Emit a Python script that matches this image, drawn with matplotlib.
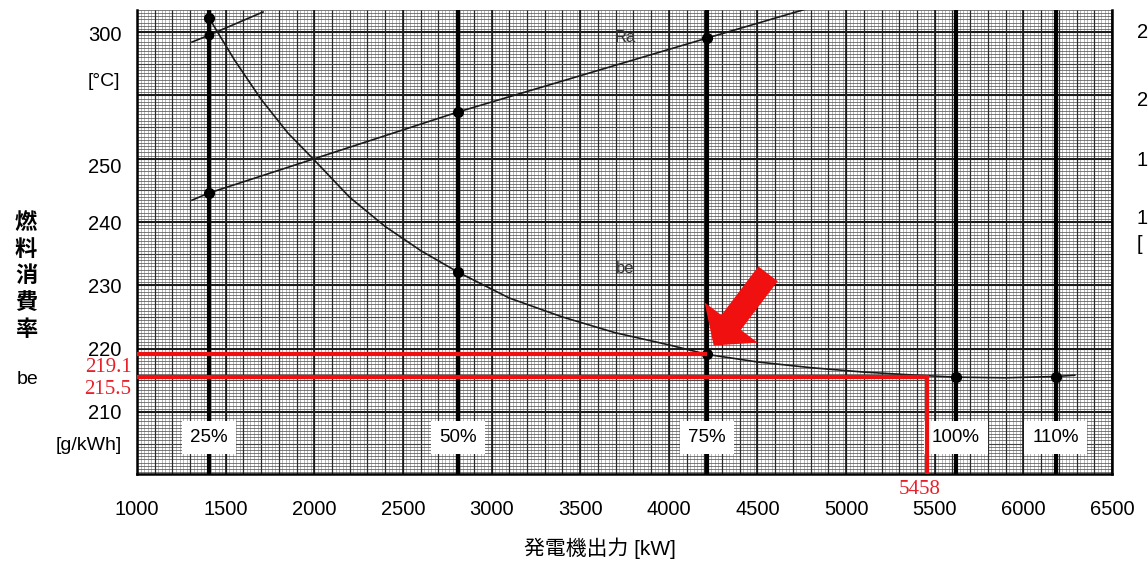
import numpy as np
import matplotlib
matplotlib.use('Agg')
import matplotlib.pyplot as plt

plt.rcParams['font.family'] = ['Liberation Sans', 'Noto Sans CJK JP', 'DejaVu Sans']

# ---- data ----
load_pct = ['25%', '50%', '75%', '100%', '110%']
load_kw = [1405, 2810, 4215, 5620, 6182]

# fuel consumption curve be [g/kWh]
be_kw = [1405, 1550, 1700, 1850, 2000, 2200, 2400, 2600, 2810, 3100, 3400,
         3700, 4000, 4215, 4500, 4800, 5100, 5400, 5620, 5900, 6182, 6290]
be_val = [272.3, 265.6, 259.4, 254.1, 249.8, 243.9, 239.3, 235.5, 232.1, 228.0,
          225.0, 222.5, 220.6, 219.1, 217.9, 217.0, 216.3, 215.8, 215.5, 215.4,
          215.6, 215.8]
be_dots = [272.3, 232.1, 219.1, 215.5, 215.6]

# Ra line and the short upper line, in deg C
ra_kw = [1310, 1405, 2810, 4215, 4768]
ra_degc = [236.7, 239.4, 270.1, 298.1, 309.0]
ra_dots = [239.4, 270.1, 298.1]
tb_kw = [1310, 1405, 1711]
tb_degc = [296.6, 299.2, 308.0]

# red read-off lines
be_75 = 219.1
be_min = 215.5
kw_min = 5458

be_ticks = [210, 220, 230, 240]
degc_ticks = [250, 300]
x_ticks = list(range(1000, 6501, 500))


def be_to_t(b):
    return 250 + (np.asarray(b) - 249.0) / 0.417


def t_to_be(t):
    return 249.0 + (np.asarray(t) - 250) * 0.417


W, H = 1148, 562
fig = plt.figure(figsize=(W / 100, H / 100), dpi=100)
ax = fig.add_axes([137 / W, 1 - 474 / H, (1112 - 137) / W, (474 - 10) / H])
ax.set_xlim(1000, 6500)
ax.set_ylim(200.2, 273.5)

# graph paper
ax.vlines(np.arange(1000, 6501, 20), 200.2, 273.5, color='#808080', lw=0.4, zorder=0)
ax.hlines(np.arange(200, 273.6, 0.5), 1000, 6500, color='#5a5a5a', lw=0.55, zorder=0)
ax.vlines(np.arange(1000, 6501, 100), 200.2, 273.5, color='#2a2a2a', lw=0.9, zorder=1)
ax.hlines(np.arange(200, 273.6, 5), 1000, 6500, color='#444444', lw=0.8, zorder=1)
ax.vlines(np.arange(1000, 6501, 500), 200.2, 273.5, color='#1a1a1a', lw=1.2, zorder=1)
ax.hlines(np.arange(200, 273.6, 10), 1000, 6500, color='#1a1a1a', lw=1.4, zorder=1)

# load lines
ax.vlines(load_kw, 200.2, 273.5, color='black', lw=3.0, zorder=2)
for kw, lab in zip(load_kw, load_pct):
    ax.text(kw, 206.0, lab, ha='center', va='center', fontsize=13.5, zorder=6,
            bbox=dict(facecolor='white', edgecolor='none', pad=6))

# curves
ax.plot(be_kw, be_val, color='#1a1a1a', lw=1.2, zorder=3)
ax.plot(load_kw, be_dots, 'o', color='black', ms=7, zorder=4)
ax.plot(ra_kw, t_to_be(ra_degc), color='#1a1a1a', lw=1.2, zorder=3)
ax.plot(load_kw[:3], t_to_be(ra_dots), 'o', color='black', ms=7, zorder=4)
ax.plot(tb_kw, t_to_be(tb_degc), color='#1a1a1a', lw=1.2, zorder=3)
ax.plot(tb_kw[1], t_to_be(tb_degc[1]), 'o', color='black', ms=6, zorder=4)
ax.text(3753, 269.2, 'Ra', fontsize=12, color='#333333', ha='center', va='center', zorder=5)
ax.text(3753, 232.7, 'be', fontsize=12, color='#333333', ha='center', va='center', zorder=5)

# red read-off
ax.plot([1000, load_kw[2]], [be_75, be_75], color='#f01010', lw=3, zorder=7,
        solid_capstyle='butt')
ax.plot([1000, kw_min, kw_min], [be_min, be_min, 200.2], color='#f01010', lw=3,
        zorder=7, solid_capstyle='butt', solid_joinstyle='miter')
ax.annotate('', xy=(load_kw[2], be_75), xytext=(44, 58), textcoords='offset points',
            arrowprops=dict(arrowstyle='simple,head_length=1.3,head_width=3.0,tail_width=1.1',
                            fc='#f01010', ec='none', mutation_scale=16,
                            shrinkA=0, shrinkB=8), zorder=8)

# axes styling
for s in ['left', 'right', 'bottom']:
    ax.spines[s].set_linewidth(1.8)
ax.spines['top'].set_visible(False)
ax.set_xticks(x_ticks)
ax.set_xticklabels([str(v) for v in x_ticks], fontsize=14.5)
ax.set_yticks(be_ticks)
ax.set_yticklabels([str(v) for v in be_ticks], fontsize=14.5)
ax.tick_params(axis='x', length=0, pad=19)
ax.tick_params(axis='y', length=0, pad=11)

sec = ax.secondary_yaxis('left', functions=(be_to_t, t_to_be))
sec.set_yticks(degc_ticks)
sec.set_yticklabels([str(v) for v in degc_ticks], fontsize=14.5)
sec.tick_params(length=0, pad=11)
sec.spines['left'].set_visible(False)

# labels
def ftxt(x, y, s, **kw):
    fig.text(x / W, 1 - y / H, s, **kw)

ftxt(104, 82, '[°C]', fontsize=14, ha='center', va='center')
ftxt(89, 446, '[g/kWh]', fontsize=14, ha='center', va='center')
ftxt(28, 380, 'be', fontsize=14, ha='center', va='center')
ftxt(26, 276, '燃\n料\n消\n費\n率', fontsize=16, ha='center', va='center',
     linespacing=1.2, family=['Noto Sans CJK JP'], weight='bold')
ftxt(600, 548, '発電機出力 [kW]', fontsize=15, ha='center', va='center')

ftxt(108, 368, '219.1', fontsize=15, color='#e8202a', ha='center', va='center', family='Liberation Serif')
ftxt(108, 389, '215.5', fontsize=15, color='#e8202a', ha='center', va='center', family='Liberation Serif')
ftxt(920, 490, '5458', fontsize=15, color='#e8202a', ha='center', va='center', family='Liberation Serif')

# right axis labels cut by the page edge
for y, s in zip([33, 100, 160, 218, 245], ['2', '2', '1', '1', '[']):
    ftxt(1137, y, s, fontsize=14.5, ha='left', va='center')

fig.savefig('out.png', dpi=100)
